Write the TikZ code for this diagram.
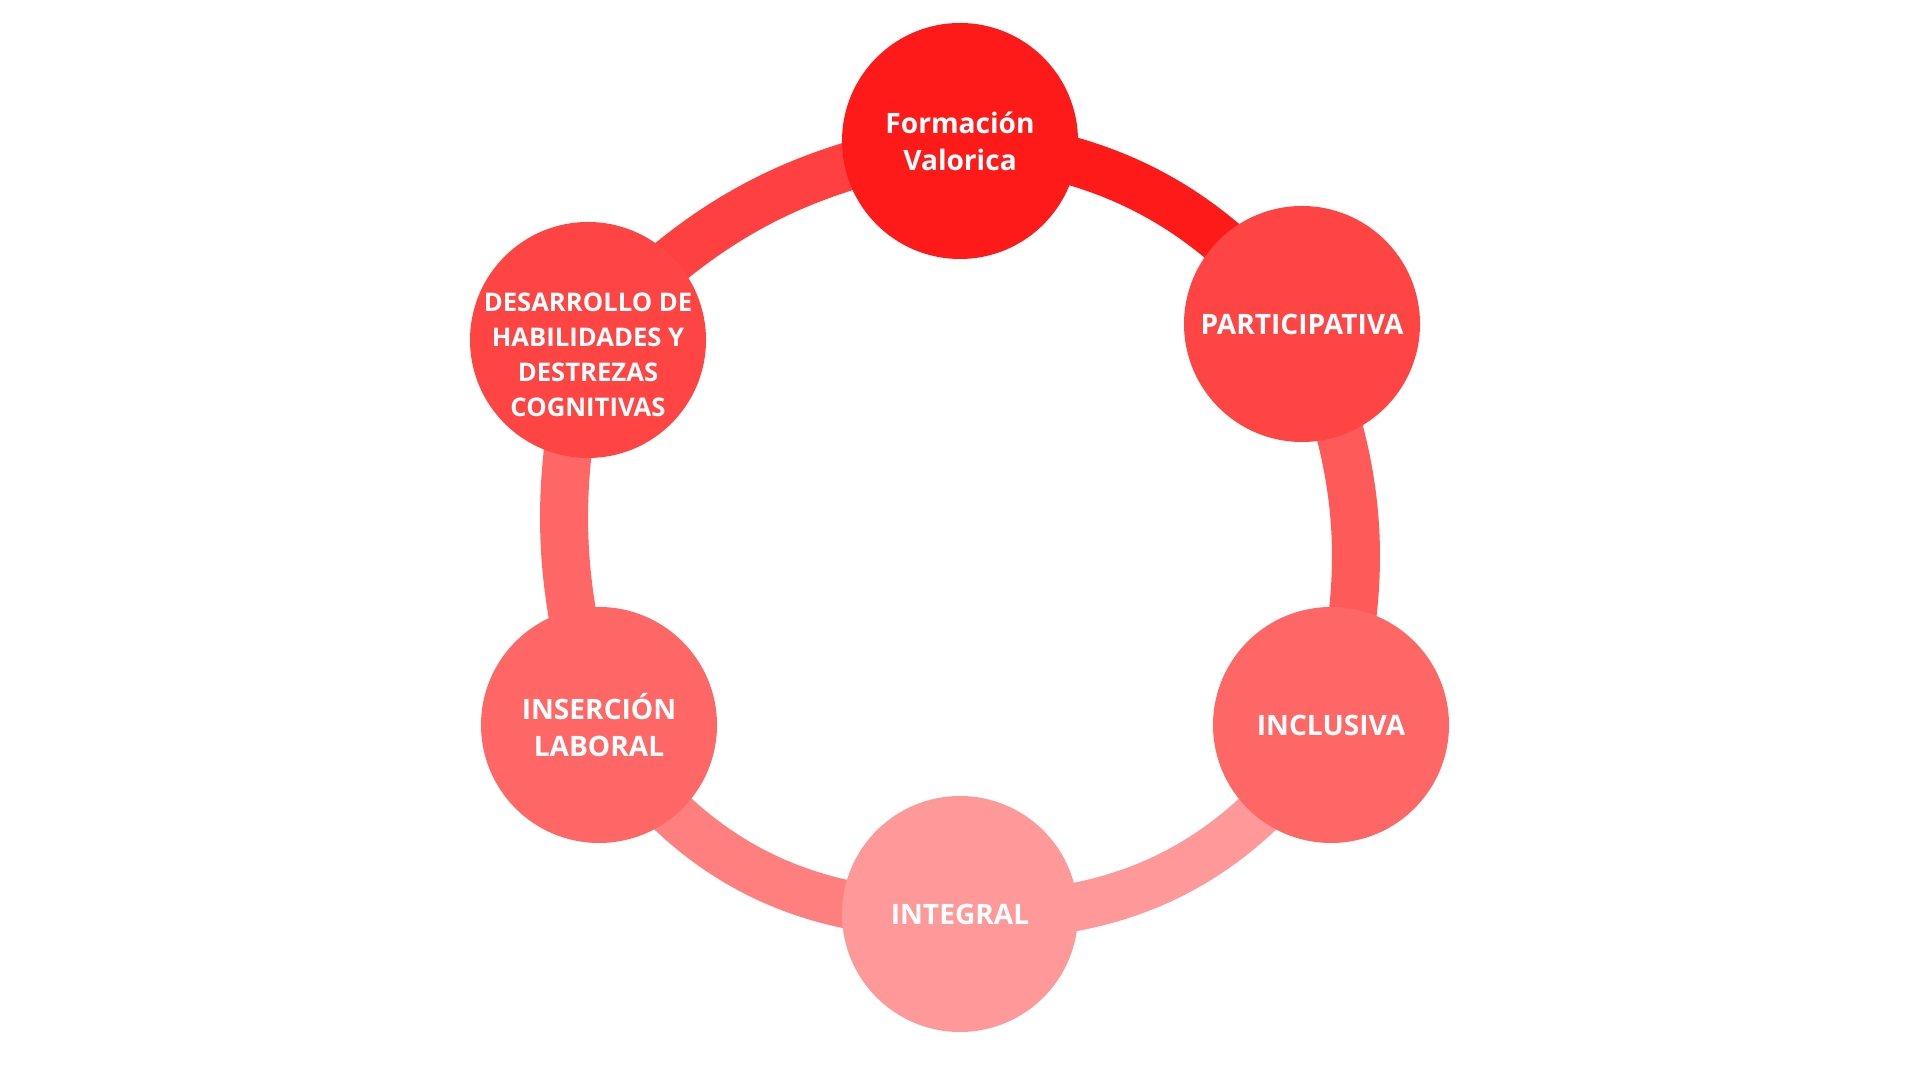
\documentclass[tikz,border=0pt]{standalone}
\usepackage{fontspec}
\setmainfont{Open Sans}
\usepackage{xcolor}
\usepackage{tikz}
\usetikzlibrary{backgrounds}
\definecolor{red1}{HTML}{FF1A1A}
\definecolor{red2}{HTML}{FF4444}
\definecolor{red3}{HTML}{FF6666}
\definecolor{red4}{HTML}{FF9999}
\definecolor{arcPI}{HTML}{FF5A5A}
\definecolor{arcII}{HTML}{FF7F7F}
\definecolor{arcDF}{HTML}{FF4040}
\tikzset{
    cnode/.style = {align=center, inner sep=0pt, text centered},
    ring_node/.style = {cnode, circle, white, minimum size=2.36cm,
        font=\bfseries\fontsize{8}{10.5}\selectfont},
    small_node/.style = {ring_node,
        font=\bfseries\fontsize{7.3}{10}\selectfont},
    ring_arc/.style = {line width=0.48cm}
}
\newcommand{\lowstack}[1]{\raisebox{-6.6pt}[0pt][0pt]{\begin{tabular}{@{}c@{}}#1\end{tabular}}}

\begin{document}
\begin{tikzpicture}
    \useasboundingbox (0,0) rectangle (19.2,10.8);

    \node (form) [ring_node, fill=red1] at (9.60,9.39) {Formación\\Valorica};
    \node (part) [ring_node, fill=red2] at (13.02,7.56) {PARTICIPATIVA};
    \node (incl) [ring_node, fill=red3] at (13.31,3.55) {INCLUSIVA};
    \node (inte) [ring_node, fill=red4] at (9.60,1.66) {INTEGRAL};
    \node (inse) [ring_node, fill=red3] at (5.99,3.55) {INSERCIÓN\\LABORAL};
    \node (desa) [small_node, fill=red2] at (5.88,7.40)
        {\lowstack{DESARROLLO DE\\HABILIDADES Y\\DESTREZAS\\COGNITIVAS}};

    \begin{scope}[on background layer]
        \draw [ring_arc, red1] (form.center) to[bend left=23] (part.center);
        \draw [ring_arc, arcPI] (part.center) to[bend left=19] (incl.center);
        \draw [ring_arc, red4] (incl.center) to[bend left=30] (inte.center);
        \draw [ring_arc, arcII] (inte.center) to[bend left=29] (inse.center);
        \draw [ring_arc, red3] (inse.center) to[bend left=15] (desa.center);
        \draw [ring_arc, arcDF] (desa.center) to[bend left=19] (form.center);
    \end{scope}
\end{tikzpicture}
\end{document}
